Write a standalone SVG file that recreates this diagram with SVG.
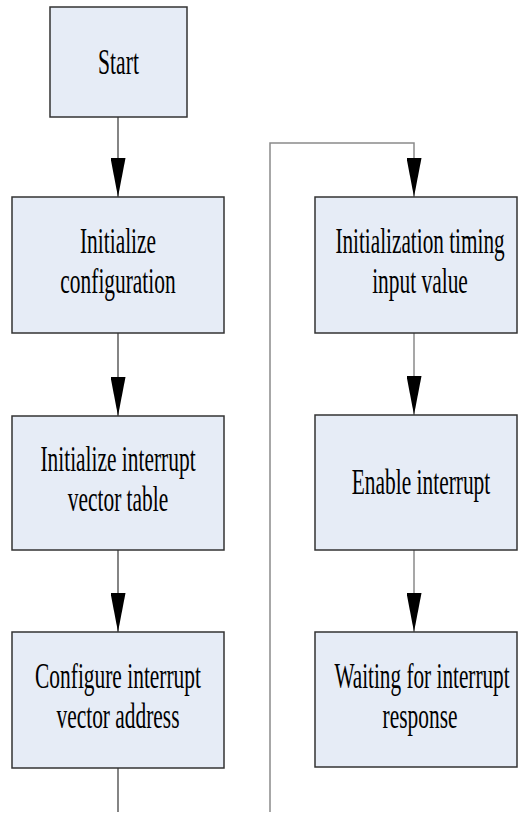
<svg xmlns="http://www.w3.org/2000/svg" width="518" height="819" viewBox="0 0 518 819">
<style>
.box{fill:#E6ECF6;stroke:#333;stroke-width:1.5}
.t{font-family:"Liberation Serif","Times New Roman",serif;font-size:36px;fill:#000;text-anchor:middle}
.c{fill:none;stroke:#333;stroke-width:1.2}
.g{fill:none;stroke:#8a8a8a;stroke-width:1.5}
</style>
<defs>
<marker id="arr" markerUnits="userSpaceOnUse" markerWidth="39" markerHeight="15" refX="39" refY="7.5" orient="auto" viewBox="0 0 39 15">
<path d="M0,0 L39,7.5 L0,15 Z" fill="#000"/>
</marker>
</defs>
<rect width="518" height="819" fill="#fff"/>
<g id="connectors">
<line class="c" x1="118" y1="117" x2="118" y2="197" marker-end="url(#arr)"/>
<line class="c" x1="118" y1="333" x2="118" y2="416" marker-end="url(#arr)"/>
<line class="c" x1="118" y1="550" x2="118" y2="632" marker-end="url(#arr)"/>
<line class="c" x1="118" y1="768" x2="118" y2="812"/>
<path class="g" d="M270,812 V143 H414 V197" marker-end="url(#arr)"/>
<line class="g" x1="414" y1="333" x2="414" y2="415" marker-end="url(#arr)"/>
<line class="g" x1="414" y1="550" x2="414" y2="632" marker-end="url(#arr)"/>
</g>
<g id="start">
<rect class="box" x="50" y="7" width="137" height="110"/>
<text class="t" transform="translate(118.5,74) scale(0.6,1)">Start</text>
</g>
<g id="init-config">
<rect class="box" x="12" y="197" width="212" height="136"/>
<text class="t" transform="translate(118,253) scale(0.595,1)">Initialize</text>
<text class="t" transform="translate(118,293) scale(0.595,1)">configuration</text>
</g>
<g id="init-ivt">
<rect class="box" x="12" y="416" width="212" height="134"/>
<text class="t" transform="translate(118,471) scale(0.595,1)">Initialize interrupt</text>
<text class="t" transform="translate(118,511) scale(0.595,1)">vector table</text>
</g>
<g id="config-iva">
<rect class="box" x="12" y="632" width="212" height="136"/>
<text class="t" transform="translate(118,688) scale(0.595,1)">Configure interrupt</text>
<text class="t" transform="translate(118,728) scale(0.595,1)">vector address</text>
</g>
<g id="init-timing">
<rect class="box" x="315" y="197" width="202" height="136"/>
<text class="t" transform="translate(420,253) scale(0.59,1)">Initialization timing</text>
<text class="t" transform="translate(420,293) scale(0.595,1)">input value</text>
</g>
<g id="enable-int">
<rect class="box" x="315" y="415" width="202" height="135"/>
<text class="t" transform="translate(421,494) scale(0.595,1)">Enable interrupt</text>
</g>
<g id="waiting">
<rect class="box" x="315" y="632" width="202" height="135"/>
<text class="t" transform="translate(422,688) scale(0.59,1)">Waiting for interrupt</text>
<text class="t" transform="translate(420,728) scale(0.595,1)">response</text>
</g>
</svg>
